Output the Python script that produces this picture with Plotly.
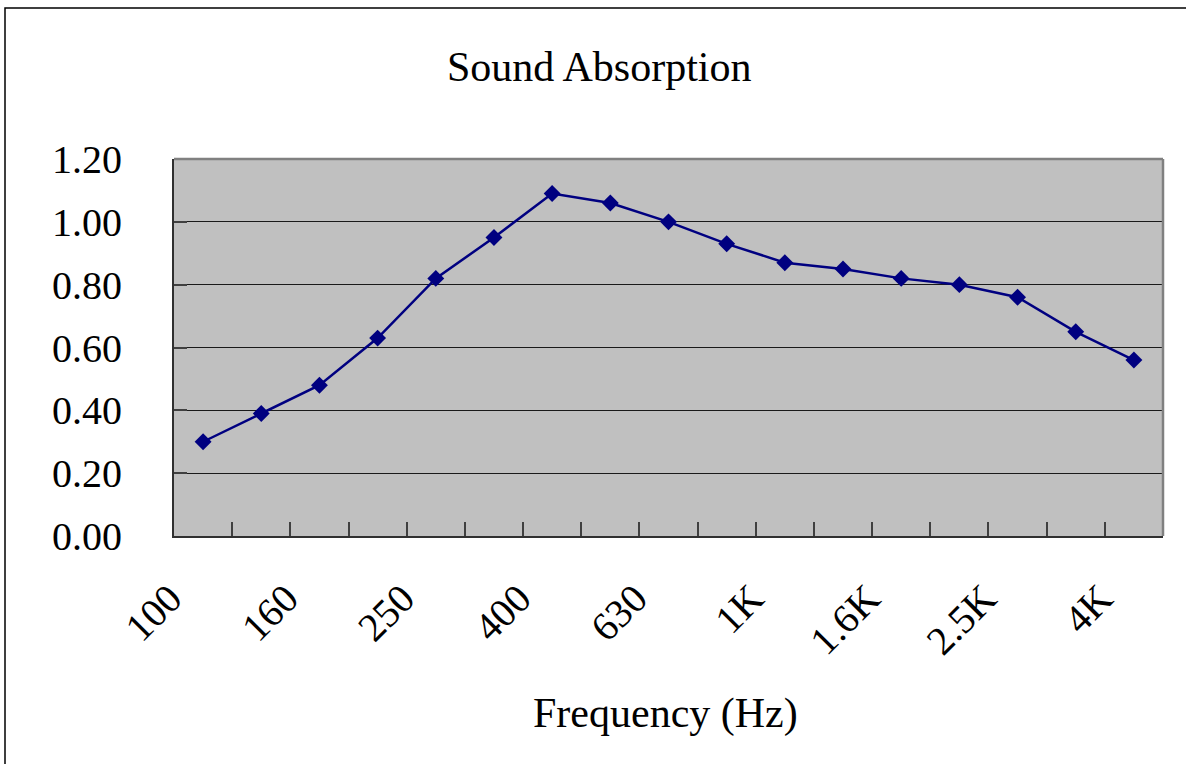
import plotly.graph_objects as go

frequencies = ["100", "125", "160", "200", "250", "315", "400", "500", "630",
               "800", "1K", "1.25K", "1.6K", "2K", "2.5K", "3.15K", "4K"]
absorption = [0.30, 0.39, 0.48, 0.63, 0.82, 0.95, 1.09, 1.06, 1.00,
              0.93, 0.87, 0.85, 0.82, 0.80, 0.76, 0.65, 0.56]
shown_labels = [f if i % 2 == 0 else "" for i, f in enumerate(frequencies)]
y_ticks = [0.0, 0.2, 0.4, 0.6, 0.8, 1.0, 1.2]

W, H = 1186, 764
L, R, T, B = 174, 23, 159, 228
pw, ph = W - L - R, H - T - B

def px(x):
    return (x - L) / pw

def py(y):
    return (H - B - y) / ph

fig = go.Figure()
fig.add_trace(go.Scatter(
    x=frequencies, y=absorption, mode="lines+markers",
    line=dict(color="#000080", width=2.5),
    marker=dict(symbol="diamond", size=13, color="#000080"),
    showlegend=False, cliponaxis=False,
))

serif = "Liberation Serif"
tick_font = dict(family=serif, size=40, color="#000000")
text_font = dict(family=serif, size=42, color="#000000")

fig.update_layout(
    width=W, height=H,
    margin=dict(l=L, r=R, t=T, b=B),
    paper_bgcolor="#FFFFFF", plot_bgcolor="#C0C0C0",
    xaxis=dict(
        type="category", range=[-0.5, len(frequencies) - 0.5],
        tickmode="array", tickvals=frequencies, ticktext=shown_labels,
        tickson="boundaries", ticks="inside", ticklen=14, tickwidth=1.5,
        tickcolor="#404040", tickangle=-45, tickfont=tick_font,
        ticklabelstandoff=21, ticklabelshift=-33,
        showgrid=False, showline=True, linecolor="#303030", linewidth=2,
        zeroline=False, fixedrange=True,
    ),
    yaxis=dict(
        range=[0, 1.2], tickmode="array", tickvals=y_ticks,
        tickformat=".2f", tickfont=tick_font,
        ticks="inside", ticklen=13, tickcolor="#404040", tickwidth=1.5,
        ticklabelstandoff=42,
        showgrid=True, gridcolor="#1a1a1a", gridwidth=1,
        showline=True, linecolor="#303030", linewidth=2,
        zeroline=False, fixedrange=True,
    ),
    shapes=[
        dict(type="line", xref="paper", yref="paper", x0=0, x1=1, y0=1, y1=1,
             line=dict(color="#808080", width=2.5), layer="above"),
        dict(type="line", xref="paper", yref="paper", x0=1, x1=1, y0=0, y1=1,
             line=dict(color="#808080", width=2.5), layer="above"),
        dict(type="rect", xref="paper", yref="paper",
             x0=px(5), x1=px(W + 10), y0=py(8), y1=py(H + 10),
             line=dict(color="#000000", width=1.5), layer="above"),
    ],
    annotations=[
        dict(text="Sound Absorption", xref="paper", yref="paper",
             x=px(599), y=py(67), xanchor="center", yanchor="middle",
             showarrow=False, font=text_font),
        dict(text="Frequency (Hz)", xref="paper", yref="paper",
             x=px(665), y=py(713), xanchor="center", yanchor="middle",
             showarrow=False, font=text_font),
    ],
)

fig.write_html("out.html",
               config={"displayModeBar": False},
               post_script="document.body.style.margin='0';document.body.style.padding='0';")
